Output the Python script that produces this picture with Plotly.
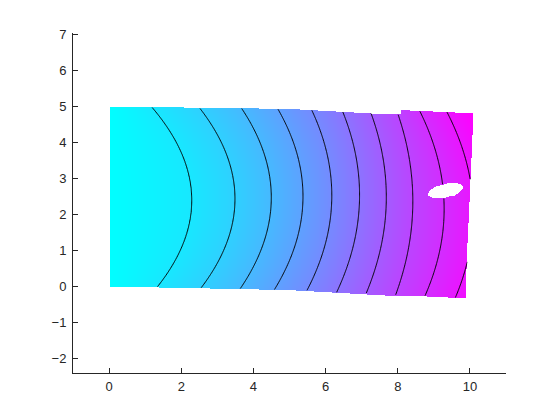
import numpy as np
import plotly.graph_objects as go

# ---- data ----
levels = [1, 2, 3, 4, 5, 6, 7, 8, 9, 10]
row_y = [4.90, 2.69, -0.15]
top_x = [1.26, 2.56, 3.71, 4.70, 5.62, 6.46, 7.23, 7.97, 8.60, 9.34]
mid_x = [2.28, 3.48, 4.49, 5.37, 6.17, 6.94, 7.68, 8.41, 9.26, 10.05]
bot_x = [1.22, 2.46, 3.57, 4.54, 5.46, 6.31, 7.14, 7.97, 8.80, 9.66]

# deformed plate outline
outline_x = [0.0, 5.00, 7.96, 8.10, 8.10, 10.10, 10.00, 9.93, 9.91, 7.96, 5.00, 0.0]
outline_y = [5.0, 4.94, 4.79, 4.79, 4.91, 4.83, 2.36, 0.74, -0.32, -0.24, -0.09, 0.0]

# elliptical hole
hole_center = (9.34, 2.67)
hole_axes = (0.49, 0.19)
hole_angle_deg = 13.5

x_ticks = [0, 2, 4, 6, 8, 10]
y_ticks = [-2, -1, 0, 1, 2, 3, 4, 5, 6, 7]

# ---- sampling grid ----
step = 0.025
xs = np.arange(-0.1, 10.25, step)
ys = np.arange(-0.45, 5.1, step)
X, Y = np.meshgrid(xs, ys)

ry = np.array(row_y)
rows = np.array([top_x, mid_x, bot_x])  # (3, K)
coefs = [np.polyfit(ry, rows[:, k], 2) for k in range(rows.shape[1])]


def contour_x_at(yv):
    return np.array([np.polyval(c, yv) for c in coefs])


Z = np.full(X.shape, np.nan)
lv = np.array(levels, dtype=float)
for i, yv in enumerate(ys):
    xk = contour_x_at(yv)
    xp = np.concatenate([[0.0], xk, [xk[-1] + (xk[-1] - xk[-2]) * 2]])
    fp = np.concatenate([[0.0], lv, [lv[-1] + 2]])
    Z[i, :] = np.interp(xs, xp, fp)

# point-in-polygon mask
px = np.array(outline_x)
py = np.array(outline_y)
inside = np.zeros(X.shape, dtype=bool)
n = len(px)
j = n - 1
for i in range(n):
    xi, yi, xj, yj = px[i], py[i], px[j], py[j]
    cond = ((yi > Y) != (yj > Y))
    with np.errstate(divide="ignore", invalid="ignore"):
        xint = (xj - xi) * (Y - yi) / (yj - yi + 1e-12) + xi
    inside ^= cond & (X < xint)
    j = i

th = np.deg2rad(hole_angle_deg)
dx = X - hole_center[0]
dy = Y - hole_center[1]
u = dx * np.cos(th) + dy * np.sin(th)
w = -dx * np.sin(th) + dy * np.cos(th)
in_hole = (u / hole_axes[0]) ** 2 + (w / hole_axes[1]) ** 2 <= 1.0

mask = inside & ~in_hole
Zm = np.where(mask, Z, np.nan)
zmin = 0.0
zmax = float(np.nanmax(Zm))

cool = [[0.0, "rgb(0,255,255)"], [1.0, "rgb(255,0,255)"]]

fig = go.Figure()
fig.add_trace(go.Heatmap(
    x=xs, y=ys, z=Zm, colorscale=cool, zmin=zmin, zmax=zmax,
    showscale=False, hoverinfo="skip", zsmooth=False,
))
fig.add_trace(go.Contour(
    x=xs, y=ys, z=Zm,
    contours=dict(start=levels[0], end=levels[-1], size=1, coloring="lines"),
    colorscale=[[0, "black"], [1, "black"]],
    line=dict(width=1, smoothing=1),
    showscale=False, hoverinfo="skip", connectgaps=False,
))

axis_common = dict(
    showgrid=False, zeroline=False, showline=True, linecolor="#262626",
    linewidth=1, ticks="inside", ticklen=5, tickcolor="#262626",
    tickfont=dict(family="Liberation Sans, Arial, sans-serif", size=13, color="#262626"),
    mirror=False,
)
fig.update_xaxes(range=[-1, 11], tickvals=x_ticks, ticklabelstandoff=1, **axis_common)
fig.update_yaxes(range=[-2.4, 7.05], tickvals=y_ticks, ticklabelstandoff=3, **axis_common)

fig.update_layout(
    width=560, height=420,
    margin=dict(l=65, r=62, t=25, b=55),
    paper_bgcolor="white", plot_bgcolor="white",
    showlegend=False,
)
fig.write_html("out.html")
